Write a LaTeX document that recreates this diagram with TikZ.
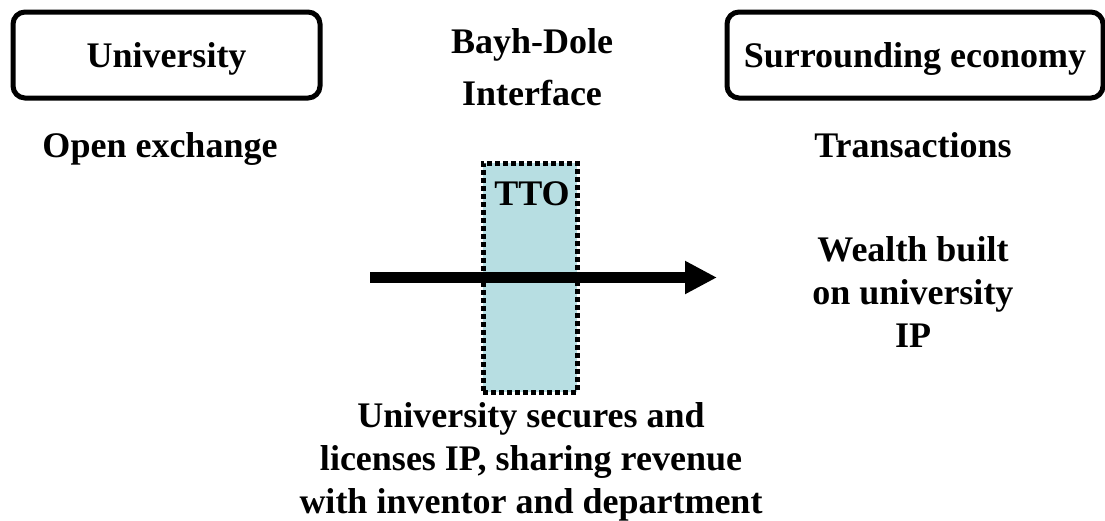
\documentclass[tikz,border=0pt]{standalone}
\usepackage{fontspec}
\setmainfont{Liberation Serif}
\usetikzlibrary{arrows.meta}
\definecolor{ttofill}{RGB}{183,222,226}
\tikzset{
  x=1pt, y=-1pt,
  every node/.style={font=\fontsize{36}{43}\selectfont\bfseries, inner sep=0pt},
  sidebox/.style={draw, line width=5pt, rounded corners=12pt,
    text height=31pt, text depth=7pt, minimum height=86pt},
  label/.style={anchor=base, align=center},
  ttobox/.style={fill=ttofill, draw, line width=5pt, dash pattern=on 5pt off 3pt},
  flow/.style={line width=11pt, -{Triangle[length=32pt,width=31pt]}}
}
\begin{document}
\begin{tikzpicture}
\useasboundingbox (0,0) rectangle (1105,520);

% the two sides of the interface
\node[sidebox, minimum width=307pt] (univ) at (166.5,55) {University};
\node[sidebox, minimum width=376pt] (econ) at (915,55) {Surrounding economy};

% multi-line labels are placed by the baseline of their last line
\node[label] (bayh) at (532,105) {Bayh-Dole\\[9pt]Interface};
\node[label] (open) at (160,157) {Open exchange};
\node[label] (trans) at (913,157) {Transactions};

% technology transfer office
\node[ttobox, minimum width=94pt, minimum height=229pt] (tto) at (530,277.5) {};
\node[label] (ttotext) at (532,205) {TTO};

% flow of IP across the interface
\coordinate (flowstart) at (370,277.5);
\coordinate (flowend) at (717,277.5);
\draw[flow] (flowstart) -- (flowend);

\node[label] (wealth) at (913,347) {Wealth built\\on university\\IP};
\node[label] (secures) at (531,513) {University secures and\\licenses IP, sharing revenue\\with inventor and department};
\end{tikzpicture}
\end{document}
